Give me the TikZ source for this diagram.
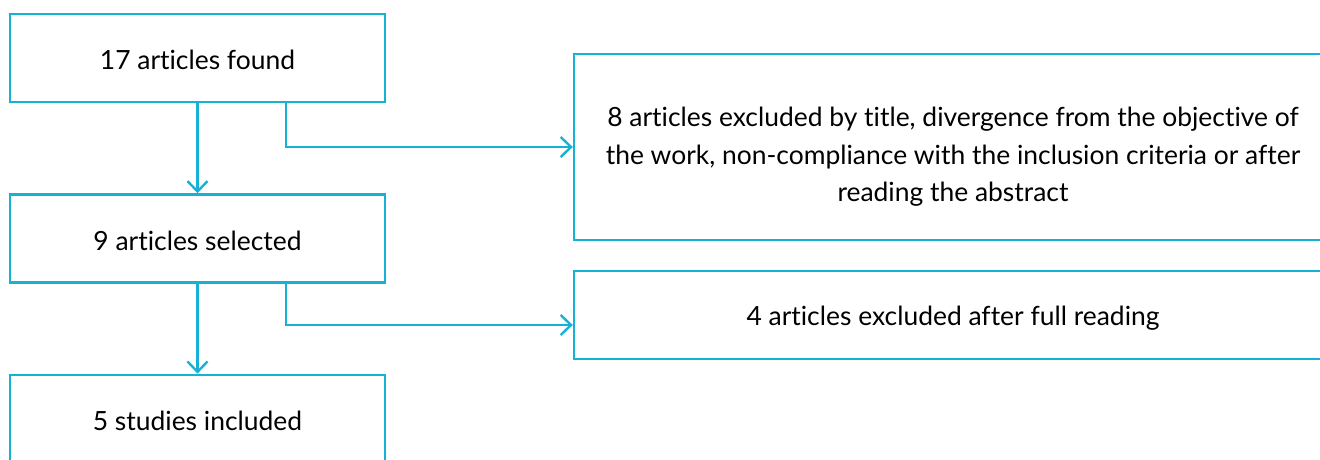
\documentclass[tikz,border=0pt]{standalone}
\usepackage{fontspec}
\setmainfont{Lato}[Ligatures=NoCommon]
\usetikzlibrary{arrows.meta, positioning}
\definecolor{flowcyan}{RGB}{22,178,214}
\tikzstyle{process} = [rectangle, minimum width=9.375cm, minimum height=2.2cm, text centered, draw=flowcyan, line width=1.7pt]
\tikzstyle{arrow} = [draw=flowcyan, line width=1.7pt, -{Straight Barb[length=2.6mm, width=5mm]}]
\tikzset{
    exclude/.style={
        rectangle, minimum width=18.95cm, align=center, draw=flowcyan, line width=1.7pt
    }
}

\begin{document}
\begin{tikzpicture}[font=\fontsize{18.8}{26.6}\selectfont]

    % Page frame
    \useasboundingbox (0,0) rectangle (33,-11.475);
    \clip (0,0) rectangle (33,-11.475);

    % Main flow
    \node[process] (found) at (4.9375,-1.45) {\rule{0pt}{17pt}17 articles found};
    \node[process, below=2.25cm of found] (selected) {\rule{0pt}{17pt}9 articles selected};
    \node[process, below=2.25cm of selected] (included) {\rule{0pt}{17pt}5 studies included};

    % Exclusions
    \node[exclude, minimum height=4.65cm] (excl1) at (23.825,-3.675) {\rule{0pt}{28pt}8 articles excluded by title, divergence from the objective of\\the work, non-compliance with the inclusion criteria or after\\reading the abstract};
    \node[exclude, minimum height=2.2cm] (excl2) at (23.825,-7.875) {\rule{0pt}{19pt}4 articles excluded after full reading};

    % Relationships
    \draw[arrow] (found) -- (selected);
    \draw[arrow] (selected) -- (included);
    \draw[arrow] ([xshift=-2.5cm]found.south east) |- (excl1.west);
    \draw[arrow] ([xshift=-2.5cm]selected.south east) |- ([yshift=-0.25cm]excl2.west);

\end{tikzpicture}
\end{document}
